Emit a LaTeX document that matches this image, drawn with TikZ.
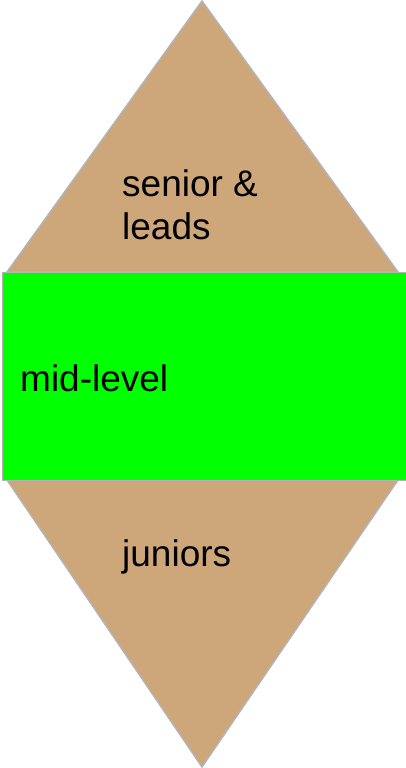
\documentclass[tikz,border=0pt]{standalone}
\usepackage{fontspec}
\setmainfont{Liberation Sans}
\definecolor{tan}{HTML}{CDA67A}
\definecolor{edgegray}{HTML}{B4B4B4}
\begin{document}
\begin{tikzpicture}[x=1pt,y=1pt,
  shapefill/.style={draw=edgegray, line width=1.5pt, line join=miter},
  lbl/.style={font=\fontsize{37}{43}\selectfont, inner sep=0pt, align=left, text=black}]
\useasboundingbox (0,0) rectangle (405,768);
% top triangle
\coordinate (tA) at (202,767);
\coordinate (tL) at (7,496);
\coordinate (tR) at (398,496);
\fill[tan] (tA) -- (tL) -- (tR) -- cycle;
\draw[shapefill] (tA) -- (tL) -- (tR) -- cycle;
% bottom triangle
\coordinate (bA) at (202,1);
\coordinate (bL) at (7,288);
\coordinate (bR) at (398,288);
\fill[tan] (bA) -- (bL) -- (bR) -- cycle;
\draw[shapefill] (bA) -- (bL) -- (bR) -- cycle;
% middle rectangle
\node[shapefill, fill=green, minimum width=410pt, minimum height=208pt, anchor=north west, inner sep=0pt] (mid) at (1.5,496) {};
% labels
\node[lbl, anchor=base west] (senior) at (122,528) {senior \&\\leads};
\node[lbl, anchor=base west] (midl) at (20,376) {mid-level};
\node[lbl, anchor=base west] (jun) at (122,201) {juniors};
\end{tikzpicture}
\end{document}
